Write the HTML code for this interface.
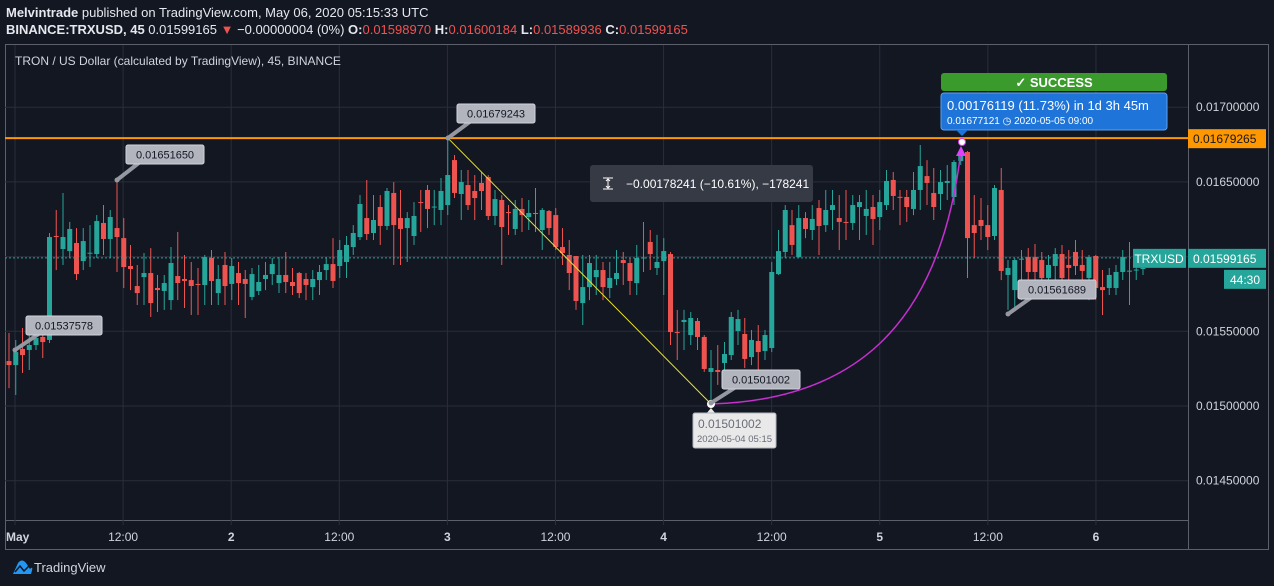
<!DOCTYPE html>
<html><head><meta charset="utf-8"><style>
html,body{margin:0;padding:0;background:#131722;width:1274px;height:586px;overflow:hidden;font-family:"Liberation Sans",sans-serif}
svg{display:block}
text{font-family:"Liberation Sans",sans-serif}
</style></head><body>
<svg id="chart" width="1274" height="586" viewBox="0 0 1274 586">
<rect x="0" y="0" width="1274" height="586" fill="#131722"/>
<g>
<text x="6" y="17" font-size="13" fill="#e6e8ee"><tspan font-weight="bold">Melvintrade</tspan> published on TradingView.com, May 06, 2020 05:15:33 UTC</text>
<text x="6" y="34" font-size="13" fill="#e6e8ee"><tspan font-weight="bold">BINANCE:TRXUSD, 45</tspan> 0.01599165 <tspan fill="#ef5350">▼</tspan> −0.00000004 (0%) <tspan font-weight="bold">O:</tspan><tspan fill="#ef5350">0.01598970</tspan> <tspan font-weight="bold">H:</tspan><tspan fill="#ef5350">0.01600184</tspan> <tspan font-weight="bold">L:</tspan><tspan fill="#ef5350">0.01589936</tspan> <tspan font-weight="bold">C:</tspan><tspan fill="#ef5350">0.01599165</tspan></text>
</g>
<rect x="5.5" y="44.5" width="1263" height="505" fill="none" stroke="#5d606b"/>
<line x1="5" y1="520.5" x2="1188" y2="520.5" stroke="#5d606b"/>
<line x1="1188.5" y1="44" x2="1188.5" y2="550" stroke="#5d606b"/>
<g id="grid"></g>
<g id="yaxis"></g>
<g id="xaxis"></g>
<text x="15" y="65" font-size="12" fill="#d1d4dc">TRON / US Dollar (calculated by TradingView), 45, BINANCE</text>
<g id="candles"></g>
<g id="overlay"></g>
<g>
<path d="M13 574 L18 563 Q22 558 26 563 L30 569 Q34 565 31 574 Z" fill="#2196f3"/>
<path d="M15 572 L20 566 L24 571 L29 566" stroke="#131722" stroke-width="1.5" fill="none"/>
<text x="34" y="572" font-size="13" fill="#d1d4dc">TradingView</text>
</g>
</svg>
<script>
// prices in 1e-5 USD
const opens=[1530.1,1527.4,1538.2,1537.5,1540.8,1546.2,1544.2,1613.8,1605.1,1603.7,
1609.1,1597.0,1602.4,1601.7,1622.5,1611.8,1619.1,1612.4,1593.7,1580.3,
1586.3,1589.0,1579.0,1577.0,1570.9,1587.0,1585.0,1584.3,1581.7,1581.0,
1599.1,1575.6,1594.4,1581.7,1589.0,1585.0,1573.0,1577.0,1585.0,1588.3,
1582.3,1587.7,1583.0,1589.0,1585.0,1579.6,1584.3,1591.0,1595.0,1593.7,
1596.4,1606.4,1613.1,1625.8,1615.8,1633.2,1620.5,1642.6,1625.8,1619.1,
1613.8,1636.5,1644.6,1633.2,1631.2,1634.5,1664.6,1641.9,1647.9,1643.9,
1649.3,1653.3,1627.2,1637.9,1629.8,1618.5,1631.9,1626.5,1629.2,1617.8,
1630.5,1627.8,1606.4,1601.1,1600.4,1568.9,1579.6,1586.3,1591.0,1579.0,
1585.0,1597.7,1595.7,1582.3,1599.1,1609.8,1592.4,1597.0,1601.7,1549.5,
1556.2,1547.5,1556.9,1546.2,1522.8,1524.1,1528.8,1534.1,1550.2,1548.2,
1532.8,1543.5,1536.8,1538.8,1588.3,1603.1,1621.1,1599.7,1625.8,1617.8,
1632.5,1621.1,1631.2,1625.8,1623.2,1622.5,1633.2,1627.2,1633.2,1626.5,
1634.5,1651.3,1640.0,1639.9,1631.9,1644.6,1653.9,1642.6,1641.9,1649.3,
1639.9,1664.0,1670.0,1621.1,1624.5,1621.1,1613.8,1644.6,1587.7,1577.6,
1598.4,1599.7,1599.7,1597.7,1585.7,1593.7,1601.7,1594.4,1603.1,1594.4,
1585.7,1600.4,1579.6,1579.0,1579.0,1589.7,1590.4,1591.0,1591.7];
const closes=[1527.4,1536.1,1534.1,1540.8,1545.5,1542.8,1613.1,1613.1,1613.1,1618.5,
1588.3,1610.4,1602.6,1623.8,1611.8,1626.5,1613.1,1593.0,1591.7,1575.6,
1589.0,1568.9,1577.6,1582.3,1595.7,1582.3,1583.7,1580.3,1581.0,1599.7,
1583.7,1585.0,1580.3,1593.7,1582.3,1581.7,1588.3,1583.0,1587.7,1595.0,
1587.7,1583.0,1580.3,1575.6,1581.0,1585.0,1589.7,1595.0,1583.7,1604.4,
1607.8,1615.8,1635.2,1615.1,1624.5,1620.5,1643.9,1621.1,1618.5,1625.8,
1627.2,1635.9,1631.9,1633.5,1643.9,1654.6,1642.6,1649.9,1634.5,1639.2,
1643.9,1627.2,1638.5,1619.8,1629.6,1631.9,1627.8,1629.2,1628.5,1631.2,
1619.1,1606.4,1602.4,1589.0,1570.3,1579.6,1595.7,1591.0,1579.6,1585.7,
1589.0,1595.7,1583.7,1599.1,1599.4,1601.7,1596.4,1603.7,1549.5,1548.9,
1557.6,1558.9,1546.2,1524.8,1525.4,1522.8,1534.8,1559.6,1558.2,1531.5,
1544.2,1536.1,1547.5,1589.7,1603.7,1631.2,1607.8,1625.8,1618.5,1625.2,
1620.5,1631.2,1634.5,1623.2,1623.0,1634.5,1636.5,1631.9,1625.2,1636.5,
1650.6,1640.6,1639.9,1633.2,1644.6,1660.6,1649.3,1633.2,1649.9,1650.6,
1663.3,1669.3,1612.4,1615.8,1620.5,1613.1,1645.9,1590.4,1592.4,1597.7,
1598.6,1589.7,1589.7,1585.7,1594.4,1601.7,1585.7,1592.4,1593.7,1590.4,
1599.7,1579.0,1577.6,1587.7,1589.7,1599.7,1590.6,1591.3,1592.4];
const highs=[1548.9,1544.2,1552.2,1550.9,1552.2,1557.6,1615.8,1631.2,1642.6,1623.2,
1619.1,1619.1,1621.1,1627.8,1634.5,1631.2,1650.6,1625.8,1607.8,1594.4,
1602.4,1605.7,1587.7,1587.7,1606.4,1616.5,1601.1,1596.4,1592.4,1601.1,
1604.4,1594.4,1603.1,1599.1,1596.4,1591.0,1592.4,1594.4,1596.4,1599.1,
1599.7,1603.1,1592.4,1589.7,1589.0,1591.0,1594.4,1599.7,1612.4,1611.1,
1613.8,1621.1,1641.2,1651.3,1641.2,1641.2,1645.9,1649.9,1644.6,1629.8,
1636.5,1644.6,1647.9,1644.6,1652.6,1680.0,1668.0,1658.0,1658.0,1654.6,
1656.6,1654.6,1644.6,1641.2,1634.5,1637.9,1639.2,1637.9,1645.9,1632.5,
1631.2,1632.5,1619.1,1611.1,1600.4,1601.1,1601.1,1601.1,1596.4,1596.4,
1604.4,1603.1,1599.1,1607.8,1623.2,1617.8,1614.5,1612.4,1603.1,1564.3,
1564.3,1562.9,1558.9,1547.5,1537.5,1540.8,1542.8,1562.9,1564.3,1558.9,
1550.9,1554.2,1550.9,1596.4,1617.8,1634.5,1631.2,1634.5,1629.8,1634.5,
1637.9,1644.6,1644.6,1641.2,1644.6,1641.2,1641.2,1644.6,1641.2,1644.6,
1658.0,1656.6,1644.6,1644.6,1656.6,1674.7,1664.6,1659.3,1658.0,1661.3,
1664.6,1671.3,1670.7,1641.2,1639.2,1634.5,1647.9,1659.3,1597.7,1599.1,
1604.4,1605.7,1608.4,1603.1,1601.1,1605.7,1607.8,1604.4,1611.1,1604.4,
1601.1,1601.1,1591.0,1592.4,1594.4,1604.4,1609.8,1602.4,1602.4];
const lows=[1512.0,1507.4,1522.1,1524.1,1537.5,1532.1,1542.2,1591.0,1594.4,1599.1,
1584.3,1591.0,1593.0,1599.1,1601.1,1599.1,1589.7,1579.0,1577.6,1567.6,
1567.6,1559.6,1562.9,1564.3,1564.3,1570.9,1565.6,1560.9,1560.9,1567.6,
1567.6,1567.6,1567.6,1570.9,1567.6,1558.9,1570.9,1574.3,1577.6,1581.0,
1575.6,1575.6,1574.3,1572.3,1570.9,1570.9,1574.3,1584.3,1579.0,1585.7,
1585.7,1601.1,1611.1,1611.1,1611.1,1607.8,1617.8,1594.4,1594.4,1596.4,
1607.8,1616.5,1619.1,1621.1,1621.1,1627.8,1639.2,1624.5,1631.2,1624.5,
1631.2,1624.5,1621.1,1594.4,1614.5,1614.5,1616.5,1617.8,1616.5,1604.4,
1614.5,1604.4,1594.4,1577.6,1564.3,1554.2,1570.9,1574.3,1570.9,1572.3,
1581.0,1581.0,1574.3,1574.3,1589.7,1591.0,1587.7,1574.3,1540.8,1530.8,
1537.5,1540.8,1537.5,1522.8,1500.7,1514.1,1517.4,1530.8,1540.8,1525.4,
1527.4,1524.1,1530.8,1536.1,1587.7,1599.1,1601.1,1599.1,1612.4,1611.1,
1601.1,1616.5,1617.8,1604.4,1611.1,1617.8,1611.1,1614.5,1607.8,1617.8,
1631.2,1631.2,1621.1,1623.2,1627.8,1631.2,1634.5,1624.5,1631.2,1637.9,
1634.5,1661.3,1585.7,1599.1,1611.1,1604.4,1611.1,1584.3,1564.3,1564.3,
1570.9,1577.6,1584.3,1577.6,1577.6,1584.3,1581.0,1584.3,1587.7,1584.3,
1570.9,1570.9,1560.9,1574.3,1574.3,1584.3,1567.6,1584.3,1587.7];
const priceTicks=[1700,1650,1550,1500,1450];
const priceTickLabels=["0.01700000","0.01650000","0.01550000","0.01500000","0.01450000"];
const gridPrices=[1700,1650,1600,1550,1500,1450];
const timeTickHours=[0,12,24,36,48,60,72,84,96,108,120];
const timeTickLabels=["May","12:00","2","12:00","3","12:00","4","12:00","5","12:00","6"];
const resistance=1679.265, lastPrice=1599.165;

const NS="http://www.w3.org/2000/svg";
function yOf(p){return 406-(p-1500)*1.494;}
function xOfIdx(i){return 9+6.75*i;}
function xOfHour(h){return 15+h*9.008;}
function mk(tag,attrs,parent,txt){const e=document.createElementNS(NS,tag);for(const k in attrs)e.setAttribute(k,attrs[k]);if(txt!==undefined)e.textContent=txt;parent.appendChild(e);return e;}

const grid=document.getElementById('grid');
gridPrices.forEach(p=>{const l=mk('line',{x1:5,x2:1188,y1:yOf(p),y2:yOf(p),stroke:'#2a2e39'},grid);

});
timeTickHours.forEach(h=>{const l=mk('line',{x1:xOfHour(h),x2:xOfHour(h),y1:45,y2:525,stroke:'#2a2e39'},grid);

});

const ya=document.getElementById('yaxis');
priceTicks.forEach((p,i)=>{const t=mk('text',{x:1196,y:yOf(p)+4,'font-size':12,fill:'#d1d4dc'},ya,priceTickLabels[i]);

});
const xa=document.getElementById('xaxis');
timeTickHours.forEach((h,i)=>{const t=mk('text',{x:xOfHour(h),y:541,'font-size':12,fill:'#d1d4dc','text-anchor':i===0?'start':'middle','font-weight':i%2===0?'bold':'normal'},xa,timeTickLabels[i]);
if(i===0)t.setAttribute('x',xOfHour(h)-9);

});

const cg=document.getElementById('candles');
opens.forEach((o,i)=>{const c=closes[i];const up=c>=o;const col=up?'#26a69a':'#ef5350';const x=xOfIdx(i);
const w=mk('line',{x1:x,x2:x,y1:yOf(highs[i]),y2:yOf(lows[i]),stroke:col,'stroke-width':1},cg);


const top=yOf(Math.max(o,c)),bot=yOf(Math.min(o,c));
const b=mk('rect',{x:x-2.5,y:top,width:5,height:Math.max(1,bot-top),fill:col},cg);

});

const ov=document.getElementById('overlay');
const ry=yOf(resistance), ly=yOf(lastPrice);
let e;
e=mk('line',{x1:5,x2:1188,y1:ry,y2:ry,stroke:'#ff9800','stroke-width':2},ov);


e=mk('line',{x1:5,x2:1133,y1:ly,y2:ly,stroke:'#26a69a','stroke-width':1,'stroke-dasharray':'2,2'},ov);


e=mk('line',{x1:448,y1:ry,x2:711,y2:404,stroke:'#e8e337','stroke-width':1},ov);


e=mk('path',{d:'M711 404 C 850 400, 940 330, 961 150',stroke:'#c62fd0','stroke-width':1.5,fill:'none'},ov);


e=mk('path',{d:'M961 146 L956 156 L966 156 Z',fill:'#e040fb'},ov);


e=mk('circle',{cx:711,cy:404,r:4,fill:'#fff'},ov);


e=mk('circle',{cx:962,cy:142,r:3.5,fill:'#fff',stroke:'#e040fb'},ov);



function callout(x,y,w,txt,px,py,name){
 const g=mk('g',{},ov);
 
 
 mk('line',{x1:px,y1:py,x2:x+14,y2:y+17,stroke:'#9598a1','stroke-width':4},g);
 mk('circle',{cx:px,cy:py,r:2.5,fill:'#9598a1'},g);
 mk('rect',{x:x,y:y,width:w,height:19,rx:2,fill:'#b2b5be',stroke:'#d1d4dc'},g);
 mk('text',{x:x+w/2,y:y+13.5,'font-size':11,fill:'#131722','text-anchor':'middle'},g,txt);
}
callout(126,145,78,'0.01651650',117,180,'callout-high-1');
callout(26,316,76,'0.01537578',15,350,'callout-low-1');
callout(457,104,78,'0.01679243',448,138,'callout-high-2');
callout(722,370,78,'0.01501002',711,403,'callout-low-2');
callout(1018,280,78,'0.01561689',1008,314,'callout-low-3');

let g=mk('g',{},ov);


mk('path',{d:'M706 414 L711 408 L716 414 Z',fill:'#e9e9ea'},g);
mk('rect',{x:693,y:413,width:83,height:35,rx:2,fill:'#e9e9ea',stroke:'#b2b5be'},g);
mk('text',{x:698,y:428,'font-size':12,fill:'#6a6d78'},g,'0.01501002');
mk('text',{x:697,y:442,'font-size':9.5,fill:'#6a6d78'},g,'2020-05-04 05:15');

g=mk('g',{},ov);


mk('rect',{x:590,y:165,width:223,height:37,rx:3,fill:'#363a45'},g);
mk('path',{d:'M603 178 H613 M603 189 H613 M608 179 V188 M606 181 L608 179 L610 181 M606 186 L608 188 L610 186',stroke:'#fff','stroke-width':1,fill:'none'},g);
mk('text',{x:626,y:188,'font-size':12,fill:'#ffffff'},g,'−0.00178241 (−10.61%), −178241');

g=mk('g',{},ov);


mk('rect',{x:941,y:73,width:226,height:18,rx:3,fill:'#3a9a2c'},g);
mk('text',{x:1054,y:87,'font-size':13,'font-weight':'bold',fill:'#fff','text-anchor':'middle'},g,'✓ SUCCESS');

g=mk('g',{},ov);


mk('rect',{x:941,y:93,width:226,height:37,rx:3,fill:'#1e74d8',stroke:'#5aa1f0'},g);
mk('path',{d:'M956 130 L962 136 L968 130 Z',fill:'#1e74d8'},g);
mk('text',{x:947,y:110,'font-size':13,fill:'#fff'},g,'0.00176119 (11.73%) in 1d 3h 45m');
mk('text',{x:947,y:124,'font-size':10,fill:'#fff'},g,'0.01677121 ◷ 2020-05-05  09:00');

g=mk('g',{},ov);


mk('rect',{x:1188,y:ry-9,width:78,height:19,fill:'#ff9800'},g);
mk('text',{x:1193,y:ry+5,'font-size':12,fill:'#131722'},g,'0.01679265');

g=mk('g',{},ov);


mk('rect',{x:1133,y:ly-9,width:53,height:19,fill:'#26a69a'},g);
mk('text',{x:1159,y:ly+5,'font-size':12,fill:'#fff','text-anchor':'middle'},g,'TRXUSD');
mk('rect',{x:1188,y:ly-9,width:78,height:19,fill:'#26a69a'},g);
mk('text',{x:1193,y:ly+5,'font-size':12,fill:'#fff'},g,'0.01599165');
mk('rect',{x:1224,y:ly+12,width:42,height:19,fill:'#26a69a'},g);
mk('text',{x:1245,y:ly+26,'font-size':12,fill:'#fff','text-anchor':'middle'},g,'44:30');
</script>
</body></html>
